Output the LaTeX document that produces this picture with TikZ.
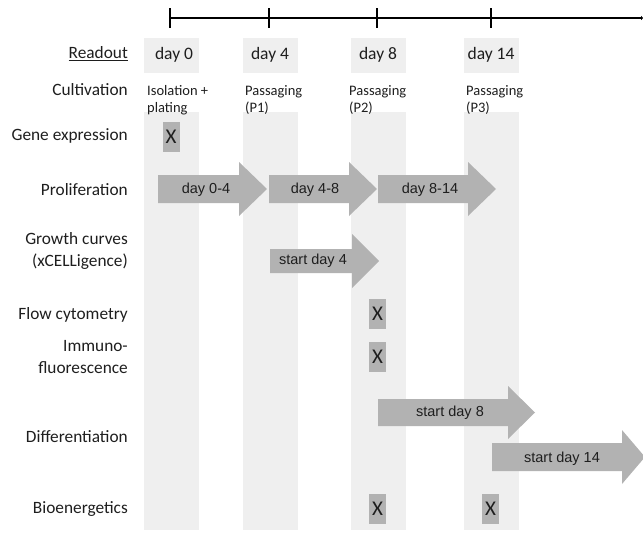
\documentclass[tikz,border=0pt]{standalone}
\usepackage{fontspec}
\setmainfont{Carlito}
\newfontfamily\arialfont{Liberation Sans}
\usetikzlibrary{arrows.meta}
\definecolor{colbg}{HTML}{EFEFEF}
\definecolor{arrgray}{HTML}{B2B2B2}
\definecolor{txt}{HTML}{1E1E1E}
\tikzset{
  rowlabel/.style={anchor=east, text=txt, font=\fontsize{17.3}{22}\selectfont, align=right, inner sep=0pt},
  daylabel/.style={text=txt, font=\fontsize{17.5}{21}\selectfont, inner sep=0pt},
  cultlabel/.style={anchor=base west, text=txt, font=\fontsize{14.5}{17}\selectfont, align=left, inner sep=0pt},
  xbox/.style={fill=arrgray, draw=none, minimum width=17pt, minimum height=30pt, inner sep=0pt, text=txt, font=\fontsize{21}{21}\selectfont},
  arrtext/.style={text=txt, font=\arialfont\fontsize{14.5}{16}\selectfont, inner sep=0pt},
  tline/.style={line width=2.2pt, black},
}
\newcommand\grayarrow[6]{% x1, xhead, xtip, yc, bodyhalf, headhalf
  \fill[arrgray] (#1,#4-#5) -- (#2,#4-#5) -- (#2,#4-#6) -- (#3,#4) -- (#2,#4+#6) -- (#2,#4+#5) -- (#1,#4+#5) -- cycle;
}
\begin{document}
\begin{tikzpicture}[x=1pt,y=-1pt]
\useasboundingbox (0,0) rectangle (643,533);
\begin{scope}
\clip (0,0) rectangle (643,533);
% columns
\foreach \xa/\xb in {144/199,243/298,351/406,464/519}{
  \fill[colbg] (\xa,38) rectangle (\xb,73);
  \fill[colbg] (\xa,112) rectangle (\xb,530);
}
% timeline
\coordinate (tstart) at (170,18);
\coordinate (tend) at (643,18);
\draw[tline,-{Latex[length=2pt,width=5pt]}] (tstart) -- (tend);
\foreach \x in {170,269,377,491}{
  \draw[line width=2.2pt] (\x,8) -- (\x,28);
}
% day labels
\node[daylabel] (d0) at (174,55) {day 0};
\node[daylabel] (d4) at (270,55) {day 4};
\node[daylabel] (d8) at (378,55) {day 8};
\node[daylabel] (d14) at (491,55) {day 14};
% cultivation
\node[cultlabel] (c0) at (147,112) {Isolation +\\plating};
\node[cultlabel] (c1) at (245,112) {Passaging\\(P1)};
\node[cultlabel] (c2) at (349,112) {Passaging\\(P2)};
\node[cultlabel] (c3) at (466,112) {Passaging\\(P3)};
% row labels
\node[rowlabel] (lread) at (128,54) {\underline{Readout}};
\node[rowlabel] (lcult) at (128,90) {Cultivation};
\node[rowlabel] (lgene) at (128,136) {Gene expression};
\node[rowlabel] (lprol) at (128,190) {Proliferation};
\node[rowlabel] (lgrow) at (128,251) {Growth curves\\(xCELLigence)};
\node[rowlabel] (lflow) at (128,315) {Flow cytometry};
\node[rowlabel] (limmu) at (128,357) {Immuno-\\fluorescence};
\node[rowlabel] (ldiff) at (128,437) {Differentiation};
\node[rowlabel] (lbio) at (128,509) {Bioenergetics};
% X boxes
\node[xbox] (xgene) at (171,137) {X};
\node[xbox] (xflow) at (377.5,314) {X};
\node[xbox] (ximmu) at (377.5,357) {X};
\node[xbox] (xbio1) at (377.5,509) {X};
\node[xbox] (xbio2) at (490.5,509) {X};
% arrows
\grayarrow{158}{239}{267}{189}{14}{27}
\grayarrow{269}{349}{377}{189}{14}{27}
\grayarrow{378}{468}{496}{189}{14}{27}
\grayarrow{270}{352}{379}{261}{12}{27}
\grayarrow{378}{508}{535}{412.5}{13.5}{26.5}
\grayarrow{492}{622}{645}{457}{14}{27}
\node[arrtext] (t1) at (206,190) {day 0-4};
\node[arrtext] (t2) at (315,190) {day 4-8};
\node[arrtext] (t3) at (430,190) {day 8-14};
\node[arrtext] (t4) at (313,261) {start day 4};
\node[arrtext] (t5) at (450,413) {start day 8};
\node[arrtext] (t6) at (562,459) {start day 14};
\end{scope}
\end{tikzpicture}
\end{document}
